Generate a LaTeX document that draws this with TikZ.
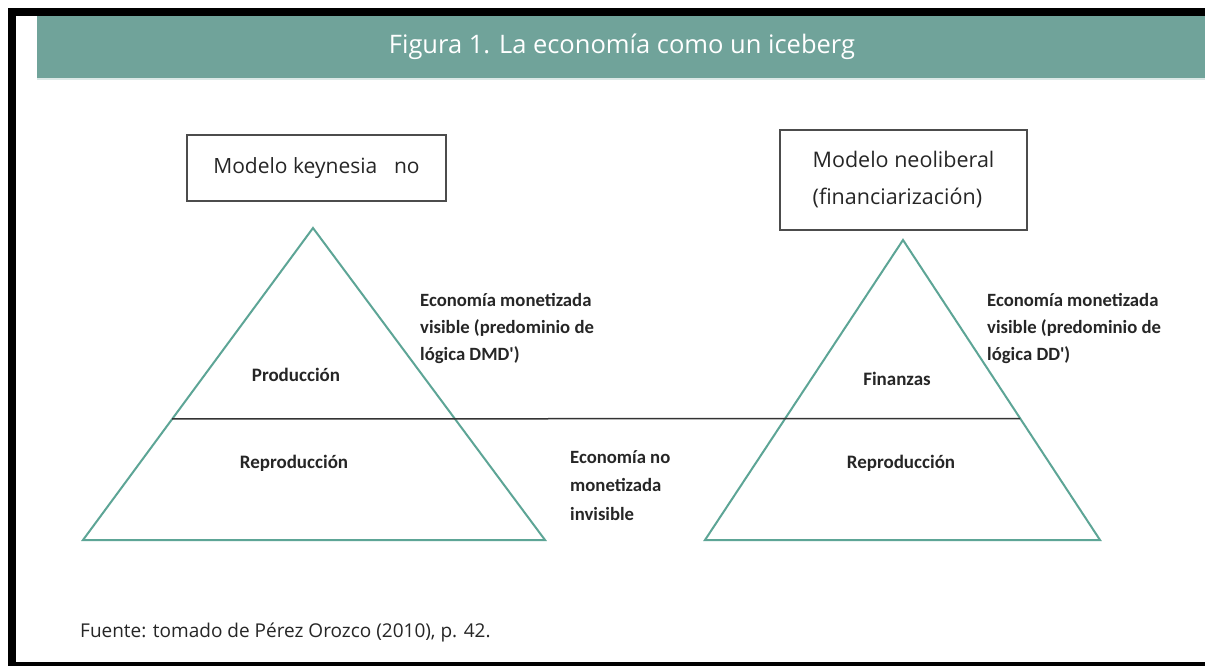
\documentclass[tikz,border=0pt]{standalone}
\usepackage{fontspec}
\usetikzlibrary{calc}
\setmainfont{Open Sans}
\newfontfamily\labelfont{Carlito}
\definecolor{bandteal}{HTML}{70A39A}
\definecolor{lineteal}{HTML}{5DA596}
\definecolor{textgray}{HTML}{262626}
\tikzset{
  modelbox/.style={draw=black!70, line width=1.2pt, minimum width=259pt, text=textgray},
  tri/.style={draw=lineteal, line width=2pt, line join=miter},
  lbl/.style={font=\labelfont\fontsize{19}{23}\selectfont\bfseries, text=textgray},
  side/.style={font=\labelfont\fontsize{18.7}{27}\selectfont\bfseries, text=textgray, anchor=north west, align=left, inner sep=0pt}
}
\begin{document}
\begin{tikzpicture}[x=1pt,y=-1pt]
    \useasboundingbox (0,0) rectangle (1205,666);
    % frame and title band
    \fill [white] (0,0) rectangle (1205,666);
    \fill [black] (8,8) rectangle (1205,16);
    \fill [black] (8,8) rectangle (16,666);
    \fill [black] (8,662) rectangle (1205,666);
    \fill [bandteal] (37,16) rectangle (1205,78);
    \fill [bandteal!25] (37,78) rectangle (1205,80);
    \node (title) [text=white, font=\fontsize{25.5}{30}\selectfont] at (622,47) {Figura 1. La economía como un iceberg};
    % model boxes
    \node (keyn) [modelbox, minimum height=66pt, font=\fontsize{21}{25}\selectfont] at (316.5,168) {Modelo keynesia\hspace{0.8em}no};
    \node (neol) [modelbox, minimum width=247pt, minimum height=100pt, align=left, font=\fontsize{21.5}{37}\selectfont] at (903.5,180) {Modelo neoliberal\\(financiarización)};
    % triangles
    \coordinate (ktop) at (313,228);
    \coordinate (kleft) at (83,540);
    \coordinate (kright) at (545,540);
    \coordinate (ntop) at (903,240);
    \coordinate (nleft) at (705,540);
    \coordinate (nright) at (1100,540);
    \draw [tri] (ktop) -- (kright) -- (kleft) -- cycle;
    \draw [tri] (ntop) -- (nright) -- (nleft) -- cycle;
    \coordinate (wl) at ($(ktop)!0.612!(kleft)$);
    \coordinate (wr) at ($(ntop)!0.595!(nright)$);
    \draw [black!80, line width=1.5pt] (wl) -- (wr);
    % labels
    \node (prod) [lbl] at (296,375) {Producción};
    \node (repk) [lbl] at (294,463) {Reproducción};
    \node (fin) [lbl] at (897,379) {Finanzas};
    \node (repn) [lbl] at (901,463) {Reproducción};
    \node (visk) [side] at (420,293) {Economía monetizada\\visible (predominio de\\lógica DMD')};
    \node (visn) [side] at (987,293) {Economía monetizada\\visible (predominio de\\lógica DD')};
    \node (invis) [side, font=\labelfont\fontsize{18.7}{28.5}\selectfont\bfseries] at (570,450) {Economía no\\monetizada\\invisible};
    \node (src) [anchor=west, inner sep=0pt, text=textgray, font=\fontsize{19}{23}\selectfont] at (80,632) {Fuente: tomado de Pérez Orozco (2010), p. 42.};
\end{tikzpicture}
\end{document}
